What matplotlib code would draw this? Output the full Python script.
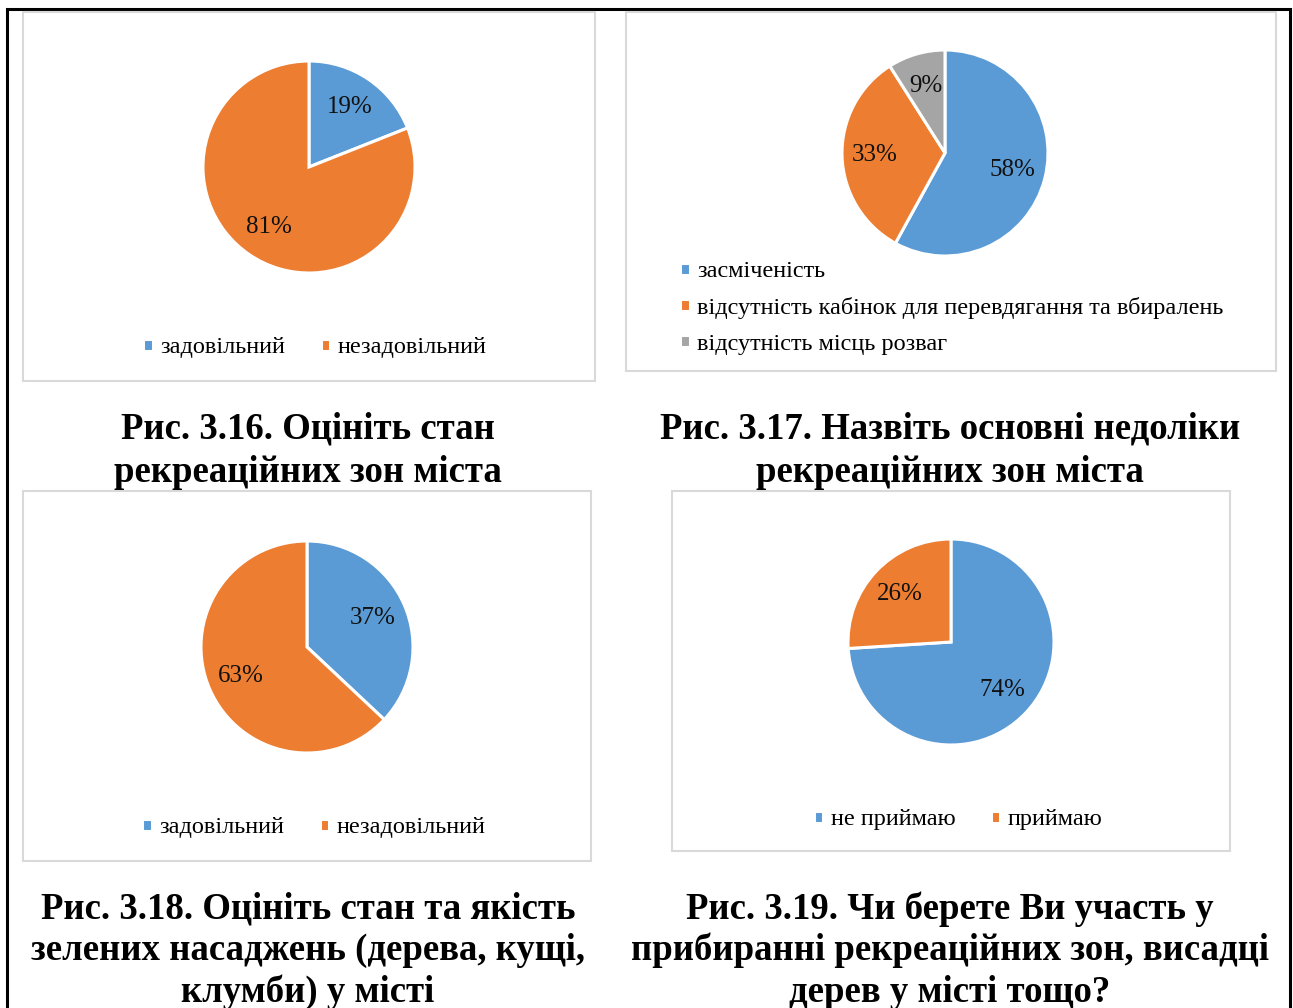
import matplotlib.pyplot as plt
from matplotlib.patches import Rectangle

# survey answers (percent)
labels_316 = ["задовільний", "незадовільний"]
values_316 = [19, 81]

labels_317 = ["засміченість", "відсутність кабінок для перевдягання та вбиралень",
              "відсутність місць розваг"]
values_317 = [58, 33, 9]

labels_318 = ["задовільний", "незадовільний"]
values_318 = [37, 63]

labels_319 = ["не приймаю", "приймаю"]
values_319 = [74, 26]

captions = [
    ["Рис. 3.16. Оцініть стан", "рекреаційних зон міста"],
    ["Рис. 3.17. Назвіть основні недоліки", "рекреаційних зон міста"],
    ["Рис. 3.18. Оцініть стан та якість", "зелених насаджень (дерева, кущі,", "клумби) у місті"],
    ["Рис. 3.19. Чи берете Ви участь у", "прибиранні рекреаційних зон, висадці", "дерев у місті тощо?"],
]

BLUE, ORANGE, GRAY = "#5B9BD5", "#ED7D31", "#A5A5A5"
SERIF = ["Liberation Serif", "DejaVu Serif"]
W, H = 1293, 1008

fig = plt.figure(figsize=(W / 100, H / 100), dpi=100)
fig.patch.set_facecolor("white")


def fx(x):
    return x / W


def fy(y):
    return 1 - y / H


def box(x0, y0, x1, y1, color="#d9d9d9", lw=1.5):
    fig.patches.append(Rectangle((fx(x0), fy(y1)), fx(x1 - x0), (y1 - y0) / H,
                                 transform=fig.transFigure, fill=False,
                                 edgecolor=color, linewidth=lw))


def pie(cx, cy, r, values, colors, pctd=0.68):
    ax = fig.add_axes([fx(cx - r), fy(cy + r), 2 * r / W, 2 * r / H])
    wedges, _, autotexts = ax.pie(values, colors=colors, startangle=90, counterclock=False,
                                  autopct="%1.0f%%", pctdistance=pctd,
                                  wedgeprops=dict(edgecolor="white", linewidth=2.2))
    for t in autotexts:
        t.set_fontfamily(SERIF)
        t.set_fontsize(18)
        t.set_color("#111111")
    ax.set_xlim(-1.0, 1.0)
    ax.set_ylim(-1.0, 1.0)
    ax.set_aspect("equal")
    ax.axis("off")
    return wedges


def legend(wedges, labels, x, y, ncol, loc="center"):
    fig.legend(wedges, labels, loc=loc, bbox_to_anchor=(fx(x), fy(y)), ncol=ncol,
               frameon=False, prop=dict(family=SERIF, size=17.5),
               handlelength=0.4, handleheight=0.4, handletextpad=0.3,
               columnspacing=1.45, labelspacing=0.6, borderpad=0, borderaxespad=0)


# outer frame of the page
fig.patches.append(Rectangle((fx(7), -0.05), fx(1290 - 7), fy(9) + 0.05,
                             transform=fig.transFigure, fill=False,
                             edgecolor="black", linewidth=2.2))

# chart frames
box(23, 12, 595, 381)
box(626, 12, 1276, 371)
box(23, 491, 591, 861)
box(672, 491, 1230, 851)

w1 = pie(309, 167, 106, values_316, [BLUE, ORANGE])
legend(w1, labels_316, 315, 348, 2)

w2 = pie(945, 153, 103, values_317, [BLUE, ORANGE, GRAY])
legend(w2, labels_317, 680, 308, 1, loc="center left")

w3 = pie(307, 647, 106, values_318, [BLUE, ORANGE])
legend(w3, labels_318, 314, 828, 2)

w4 = pie(951, 642, 103, values_319, [BLUE, ORANGE])
legend(w4, labels_319, 958, 820, 2)

# figure captions
cap_pos = [(308, 429, 43), (950, 429, 43), (308, 909, 41.5), (950, 909, 41.5)]
for lines, (cx, cy, step) in zip(captions, cap_pos):
    for i, line in enumerate(lines):
        fig.text(fx(cx), fy(cy + i * step), line, ha="center", va="center",
                 fontsize=26.5, fontweight="bold", family=SERIF)

fig.savefig("out.png", dpi=100, facecolor="white")
